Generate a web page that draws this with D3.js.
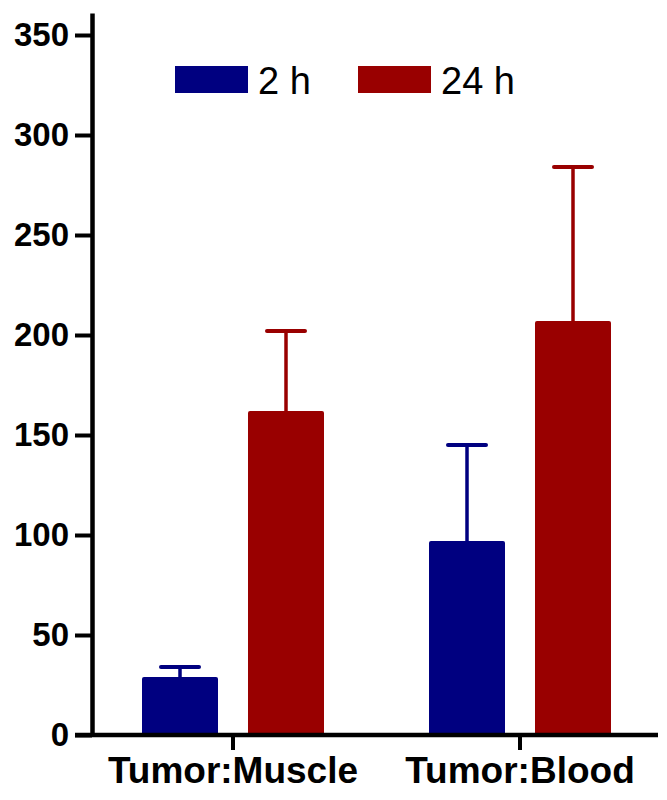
<!DOCTYPE html>
<html><head><meta charset="utf-8">
<script src="https://cdn.jsdelivr.net/npm/d3@7"></script>
<style>body{margin:0;background:#fff}svg{display:block}</style>
</head><body>
<svg id="c" width="667" height="800"></svg>
<script>
const categories = ["Tumor:Muscle", "Tumor:Blood"];
const seriesNames = ["2 h", "24 h"];
const means2h = [29, 97];
const means24h = [162, 207];
const upper2h = [34, 145];
const upper24h = [202, 284];
const yTicks = [0, 50, 100, 150, 200, 250, 300, 350];
const colors = ["#000080", "#990000"];

const svg = d3.select("#c");
const y = d3.scaleLinear().domain([0, 361]).range([735, 13]);
const x0 = d3.scaleBand().domain(categories).range([89.5, 663.5]).padding(0);
const x1 = d3.scaleBand().domain(seriesNames).paddingInner(0.283);

const data = [];
categories.forEach((c, i) => {
  data.push({cat: c, s: seriesNames[0], v: means2h[i], up: upper2h[i]});
  data.push({cat: c, s: seriesNames[1], v: means24h[i], up: upper24h[i]});
});
const col = d3.scaleOrdinal().domain(seriesNames).range(colors);

function bx(d) {
  const c = x0(d.cat) + x0.bandwidth() / 2;
  x1.range([c - 91, c + 91]);
  return x1(d.s);
}

// error bars (upper only)
const eb = svg.append("g");
data.forEach(d => {
  const left = bx(d), cx = left + x1.bandwidth() / 2;
  eb.append("line").attr("x1", cx).attr("x2", cx).attr("y1", y(d.v)).attr("y2", y(d.up))
    .attr("stroke", col(d.s)).attr("stroke-width", 3.5);
  eb.append("line").attr("x1", cx - 19).attr("x2", cx + 19).attr("y1", y(d.up)).attr("y2", y(d.up))
    .attr("stroke", col(d.s)).attr("stroke-width", 4).attr("stroke-linecap", "round");
});

// bars
svg.append("g").selectAll("rect").data(data).join("rect")
  .attr("x", d => bx(d)).attr("width", x1.bandwidth())
  .attr("y", d => y(d.v)).attr("height", d => y(0) - y(d.v) + 2)
  .attr("rx", 2).attr("fill", d => col(d.s));

// y axis
const ya = svg.append("g").attr("transform", "translate(92,0)")
  .call(d3.axisLeft(y).tickValues(yTicks).tickSize(17).tickSizeOuter(0).tickPadding(6));
ya.select(".domain").attr("stroke-width", 4.5).attr("stroke", "#000");
ya.selectAll(".tick line").attr("stroke-width", 4).attr("stroke", "#000");
ya.selectAll(".tick text").attr("font-family", "Liberation Sans, Arial, sans-serif")
  .attr("font-size", 33).attr("font-weight", "bold").attr("fill", "#000");

// x axis
const xa = svg.append("g").attr("transform", "translate(0,735)")
  .call(d3.axisBottom(x0).tickSize(15).tickSizeOuter(0).tickPadding(7));
xa.select(".domain").remove();
xa.append("line").attr("x1", 75).attr("x2", 658).attr("y1", 0).attr("y2", 0)
  .attr("stroke", "#000").attr("stroke-width", 4.5);
xa.selectAll(".tick line").attr("stroke-width", 4).attr("stroke", "#000");
xa.selectAll(".tick text").attr("font-family", "Liberation Sans, Arial, sans-serif")
  .attr("font-size", 37).attr("font-weight", "bold").attr("fill", "#000");

// legend
const legX = [175, 358];
const leg = svg.append("g");
seriesNames.forEach((s, i) => {
  leg.append("rect").attr("x", legX[i]).attr("y", 66).attr("width", 73).attr("height", 27).attr("fill", col(s));
  leg.append("text").attr("x", legX[i] + 83).attr("y", 94).text(s)
    .attr("font-family", "Liberation Sans, Arial, sans-serif").attr("font-size", 38).attr("fill", "#000");
});
</script>
</body></html>
